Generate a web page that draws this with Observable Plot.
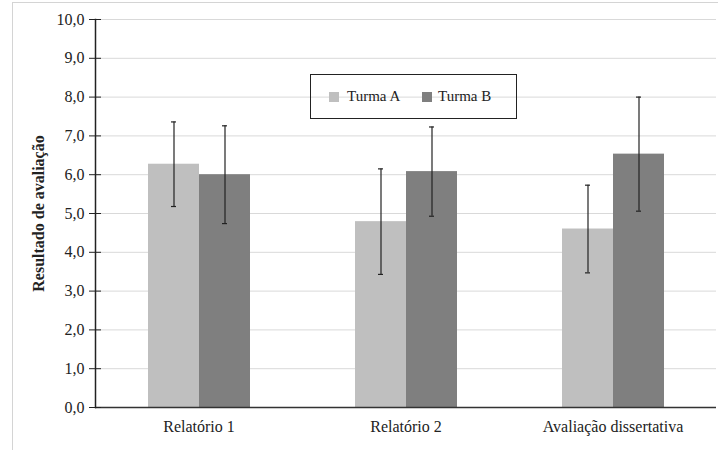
<!DOCTYPE html>
<html><head><meta charset="utf-8">
<script src="https://cdn.jsdelivr.net/npm/d3@7"></script>
<script src="https://cdn.jsdelivr.net/npm/@observablehq/plot@0.6"></script>
<style>
body{margin:0;background:#fff;}
#wrap{position:relative;width:718px;height:450px;overflow:hidden;font-family:"Liberation Serif",Tinos,"Times New Roman",Times,"Nimbus Roman","DejaVu Serif",serif;}
#frame{position:absolute;left:12px;top:2px;width:760px;height:500px;border:1px solid #d4d4d4;box-sizing:border-box;}
#chart{position:absolute;left:0;top:0;}
#legend{position:absolute;left:310px;top:74px;width:207px;height:45px;border:1.5px solid #222;box-sizing:border-box;font-size:15px;color:#222;}
.sw{position:absolute;width:10px;height:10px;top:17px;}
.lt{position:absolute;top:12px;line-height:18px;white-space:nowrap;}
</style></head>
<body>
<div id="wrap">
  <div id="frame"></div>
  <div id="chart"></div>
  <div id="legend"></div>
</div>
<script>
const categories = ["Relatório 1", "Relatório 2", "Avaliação dissertativa"];
const groups = ["Turma A", "Turma B"];
const meanA = [6.27, 4.79, 4.60];
const meanB = [6.00, 6.08, 6.53];
const sdA = [1.09, 1.36, 1.13];
const sdB = [1.26, 1.15, 1.47];
const yTicks = [0, 1, 2, 3, 4, 5, 6, 7, 8, 9, 10];
const colors = ["#bfbfbf", "#7f7f7f"];

const data = [];
categories.forEach((c, i) => {
  data.push({cat: c, g: groups[0], mean: meanA[i], sd: sdA[i]});
  data.push({cat: c, g: groups[1], mean: meanB[i], sd: sdB[i]});
});
const fmt = d => d.toFixed(1).replace(".", ",");
const serif = '"Liberation Serif",Tinos,"Times New Roman",Times,"Nimbus Roman","DejaVu Serif",serif';

const chart = Plot.plot({
  width: 718, height: 450,
  marginLeft: 94, marginRight: 2, marginTop: 19, marginBottom: 43,
  style: {fontFamily: serif, fontSize: "15px", color: "#222", background: "transparent"},
  fx: {domain: categories, padding: 0, label: null},
  x: {domain: groups, paddingInner: 0, paddingOuter: 1, axis: null},
  y: {domain: [0, 10]},
  color: {domain: groups, range: colors},
  marks: [
    Plot.gridY(yTicks, {stroke: "#d9d9d9", strokeOpacity: 1}),
    Plot.barY(data, {fx: "cat", x: "g", y: "mean", fill: "g"}),
    Plot.ruleX(data, {fx: "cat", x: "g", y1: d => d.mean - d.sd, y2: d => d.mean + d.sd, stroke: "#222", strokeWidth: 1.2}),
    Plot.tickY(data, {fx: "cat", x: "g", y: d => d.mean + d.sd, stroke: "#222", strokeWidth: 1.2, insetLeft: 23, insetRight: 23}),
    Plot.tickY(data, {fx: "cat", x: "g", y: d => d.mean - d.sd, stroke: "#222", strokeWidth: 1.2, insetLeft: 23, insetRight: 23}),
    Plot.ruleY([0], {stroke: "#333", strokeWidth: 1.5}),
    Plot.frame({anchor: "left", facetAnchor: "left", stroke: "#222", strokeWidth: 1.5}),
    Plot.axisY(yTicks, {tickSize: 12, dx: 6, tickPadding: 5, tickFormat: fmt, fontSize: 16, stroke: "#222",
      label: "Resultado de avaliação", labelAnchor: "center", labelArrow: "none", labelOffset: 63}),
    Plot.axisFx({anchor: "bottom", tickSize: 0, tickPadding: 13, label: null, fontSize: 16})
  ]
});
document.getElementById("chart").appendChild(chart);
chart.querySelectorAll("g[aria-label='y-axis label'] text").forEach(t => { t.setAttribute("font-weight", "bold"); t.setAttribute("font-size", "16"); });

const legend = document.getElementById("legend");
const pos = [{sw: 18, tx: 36}, {sw: 111, tx: 127}];
groups.forEach((g, i) => {
  const s = document.createElement("div");
  s.className = "sw"; s.style.left = pos[i].sw + "px"; s.style.background = colors[i];
  legend.appendChild(s);
  const t = document.createElement("div");
  t.className = "lt"; t.style.left = pos[i].tx + "px"; t.textContent = g;
  legend.appendChild(t);
});
</script>
</body></html>
